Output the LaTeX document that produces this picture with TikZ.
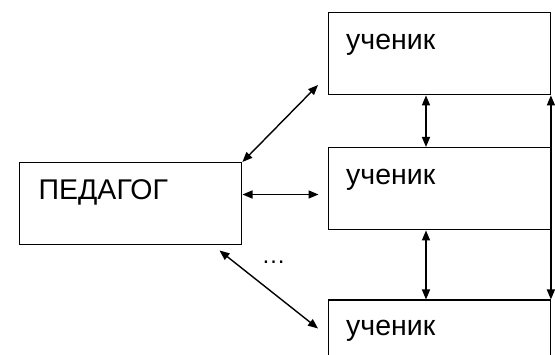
\documentclass[tikz,border=0pt]{standalone}
\usepackage{fontspec}
\setmainfont{Liberation Sans}
\usetikzlibrary{arrows.meta,calc}
\begin{document}
\begin{tikzpicture}[x=1pt,y=-1pt,
  box/.style={draw,line width=1.4pt,rectangle,minimum width=222pt,minimum height=82pt,inner sep=0pt,anchor=north west},
  lbl/.style={anchor=base west,inner sep=0pt,font=\fontsize{28.5}{30}\selectfont},
  link/.style={line width=1.4pt,{Triangle[length=10pt,width=8pt]}-{Triangle[length=10pt,width=8pt]}}]
\useasboundingbox (0,0) rectangle (555,355);
\clip (0,0) rectangle (555,355);
\node[box] (ped) at (19,162) {};
\node[box] (u1) at (327.5,12) {};
\node[box] (u2) at (327.5,147) {};
\node[box] (u3) at (327.5,299.5) {};
\node[lbl] (tp) at ($(ped.north west)+(19.5,38)$) {ПЕДАГОГ};
\node[lbl] (t1) at ($(u1.north west)+(18.5,38)$) {ученик};
\node[lbl] (t2) at ($(u2.north west)+(18.5,38)$) {ученик};
\node[lbl] (t3) at ($(u3.north west)+(18.5,36.5)$) {ученик};
\node[lbl,anchor=center,font=\fontsize{24}{26}\selectfont] (dots) at (273.5,262) {…};
\coordinate (a1) at (318,85);
\coordinate (p2) at (242.5,194.5);
\coordinate (a2) at (318.5,194.5);
\coordinate (p3) at (219.5,250.5);
\coordinate (a3) at (318,328.5);
\draw[link] (ped.north east) -- (a1);
\draw[link] (p2) -- (a2);
\draw[link] (p3) -- (a3);
\draw[link] (u1.south west -| 426,0) -- (u2.north west -| 426,0);
\draw[link] (u2.south west -| 426,0) -- (u3.north west -| 426,0);
\draw[link] (u1.south east) -- (u3.north east);
\end{tikzpicture}
\end{document}
